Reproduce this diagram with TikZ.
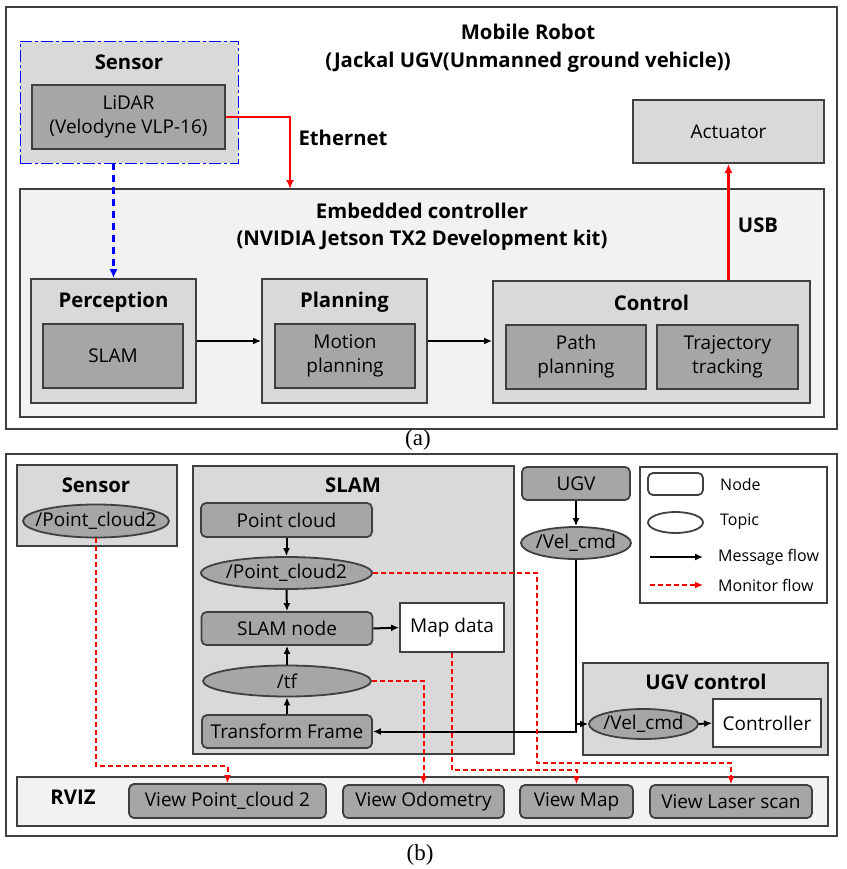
\documentclass[tikz,border=0pt]{standalone}
\usepackage{fontspec}
\setmainfont{Open Sans}
\newfontfamily\capfont{Liberation Serif}
\usetikzlibrary{arrows.meta,shapes.geometric,calc}
\definecolor{dk}{HTML}{A6A6A6}
\definecolor{lt}{HTML}{D9D9D9}
\definecolor{vlt}{HTML}{F2F2F2}
\definecolor{bd}{HTML}{404040}
\newcommand\bodyf{\fontsize{19}{24}\selectfont}
\newcommand\boldf{\fontsize{20.3}{24}\selectfont\bfseries}
\newcommand\legf{\fontsize{16}{20}\selectfont}
\begin{document}
\begin{tikzpicture}[x=1pt,y=-1pt,
  every node/.style={inner sep=0pt, font=\bodyf, text=black},
  sz/.style 2 args={minimum width=#1, minimum height=#2},
  frame/.style={draw=bd, line width=1.8pt},
  bx/.style={frame, rectangle, align=center},
  dkbox/.style={bx, fill=dk},
  ltbox/.style={bx, fill=lt},
  vltbox/.style={bx, fill=vlt},
  whbox/.style={bx, fill=white},
  rbox/.style={dkbox, rounded corners=5pt},
  topic/.style={frame, ellipse, fill=dk},
  ttl/.style={font=\boldf},
  capf/.style={font=\capfont\fontsize{23}{26}\selectfont},
  legtxt/.style={font=\legf, anchor=west},
  msg/.style={draw=black, line width=2pt, -{Latex[length=8pt,width=7pt]}},
  mon/.style={draw=red, line width=2pt, dash pattern=on 5pt off 3pt, -{Latex[length=8pt,width=7pt]}},
  redarr/.style={draw=red, line width=2.2pt, -{Latex[length=9pt,width=8pt]}},
  bluearr/.style={draw=blue, line width=2.2pt, dash pattern=on 7pt off 5pt, -{Latex[length=9pt,width=8pt]}}
]
\useasboundingbox (0,0) rectangle (846,869);
\fill[white] (0,0) rectangle (846,869);

% ---------------- (a) ----------------
\node[bx, fill=white, sz={831}{422}] (outA) at (421.5,218) {};
\node[ttl] (mr1) at (528,32) {Mobile Robot};
\node[ttl] (mr2) at (528,62) {(Jackal UGV(Unmanned ground vehicle))};
\node[rectangle, fill=lt, draw=blue, line width=0.9pt, dash pattern=on 12pt off 3pt on 3pt off 3pt, sz={218}{122}] (senA) at (129,102) {};
\node[ttl] (senAt) at (129,62) {Sensor};
\node[dkbox, sz={193}{64}] (lidar) at (128.5,117) {LiDAR\\(Velodyne VLP-16)};
\node[vltbox, sz={804}{228}] (emb) at (422,303) {};
\node[ttl] (emb1) at (422,211) {Embedded controller};
\node[ttl] (emb2) at (422,240) {(NVIDIA Jetson TX2 Development kit)};
\node[ltbox, sz={191}{63}] (act) at (728.5,131.5) {Actuator};
\node[ltbox, sz={165}{124}] (perc) at (113.5,341) {};
\node[ttl] (perct) at (113.5,302) {Perception};
\node[dkbox, sz={140}{64}] (slamA) at (113,356) {SLAM};
\node[ltbox, sz={165}{124}] (plan) at (344.5,341) {};
\node[ttl] (plant) at (344.5,302) {Planning};
\node[dkbox, sz={140}{64}] (motion) at (345,356) {Motion\\planning};
\node[ltbox, sz={317}{122}] (ctrl) at (651.5,342) {};
\node[ttl] (ctrlt) at (651.5,303) {Control};
\node[dkbox, sz={140}{64}] (pathp) at (576,357) {Path\\planning};
\node[dkbox, sz={141}{64}] (traj) at (727.5,357) {Trajectory\\tracking};
\coordinate (ethin) at (290,189);
\draw[redarr] (lidar.east) -| (ethin);
\node[ttl] (eth) at (343,138) {Ethernet};
\draw[redarr] (act.south |- ctrl.north) -- (act.south);
\node[ttl] (usb) at (758,225) {USB};
\draw[bluearr] (perc.north |- senA.south) -- (perc.north);
\draw[msg] (perc.east) -- (plan.west);
\draw[msg] (plan.east) -- (plan.east -| ctrl.west);
\node[capf] (capa) at (418,440) {(a)};

% ---------------- (b) ----------------
\node[bx, fill=white, sz={831}{382}] (outB) at (421.5,645) {};
\node[ltbox, sz={160}{81}] (senB) at (97,505.5) {};
\node[ttl] (senBt) at (96,485) {Sensor};
\node[topic, sz={146}{33}] (pcs) at (96,521) {\makebox[0pt]{/Point\_cloud2}};

\node[ltbox, sz={321}{288}] (slamB) at (353.5,610) {};
\node[ttl] (slamBt) at (353,485) {SLAM};
\node[rbox, sz={171}{34}] (pcloud) at (286.5,520) {Point cloud};
\node[topic, sz={171}{32}] (pc2) at (286.5,573) {\makebox[0pt]{/Point\_cloud2}};
\node[rbox, sz={171}{33}] (snode) at (287,628.5) {SLAM node};
\node[whbox, sz={104}{49}] (map) at (452,627.5) {Map data};
\node[topic, sz={168}{31}] (tf) at (287,681) {\makebox[0pt]{/tf}};
\node[rbox, sz={170}{33}] (tfr) at (287,731.5) {Transform Frame};

\node[rbox, sz={108}{33}] (ugv) at (576,483.5) {UGV};
\node[topic, sz={110}{32}] (vel1) at (576,543) {\makebox[0pt]{/Vel\_cmd}};

\node[whbox, sz={187}{136}] (leg) at (733.5,535) {};
\node[frame, fill=white, rounded corners=5pt, sz={55}{22}] (lnode) at (675.5,484) {};
\node[frame, ellipse, fill=white, sz={55}{21}] (ltopic) at (675.5,522.5) {};
\coordinate (lm1) at (650,557);
\coordinate (lm2) at (703,557);
\coordinate (lf1) at (650,585);
\coordinate (lf2) at (703,585);
\draw[msg] (lm1) -- (lm2);
\draw[mon] (lf1) -- (lf2);
\node[legtxt] (lt1) at (720,484) {Node};
\node[legtxt] (lt2) at (720,522) {Topic};
\node[legtxt] (lt3) at (718,557) {Message flow};
\node[legtxt] (lt4) at (718,585) {Monitor flow};

\node[ltbox, sz={245}{92}] (ugvc) at (705.5,709) {};
\node[ttl] (ugvct) at (706,682) {UGV control};
\node[topic, sz={109}{30}] (vel2) at (643.5,724) {\makebox[0pt]{/Vel\_cmd}};
\node[whbox, sz={108}{48}] (ctl) at (767,723) {Controller};

\node[vltbox, sz={811}{49}] (rviz) at (422.5,801.5) {};
\node[ttl] (rvizt) at (73,797) {RVIZ};
\node[rbox, sz={197}{34}] (vpc) at (227.5,801) {View Point\_cloud 2};
\node[rbox, sz={161}{33}] (vodo) at (423.5,801.5) {View Odometry};
\node[rbox, sz={113}{33}] (vmap) at (576.5,801.5) {View Map};
\node[rbox, sz={162}{33}] (vlas) at (731,801.5) {View Laser scan};

% message flows
\draw[msg] (pcloud.south) -- (pc2.north);
\draw[msg] (pc2.south) -- (snode.north);
\draw[msg] (tf.north) -- (snode.south);
\draw[msg] (tfr.north) -- (tf.south);
\draw[msg] (snode.east) -- (map.west);
\draw[msg] (ugv.south) -- (vel1.north);
\draw[msg] (vel1.south) |- (tfr.east);
\draw[msg] (vel1.south |- vel2.west) -- (vel2.west);
\draw[msg] (vel2.east) -- (ctl.west);

% monitor flows
\coordinate (r1) at (537,763);
\draw[mon] (pcs.south) |- ($(vpc.north)+(0,-17)$) -- (vpc.north);
\draw[mon] (pc2.east) -| (r1) -| (vlas.north);
\draw[mon] (map.south) |- ($(vmap.north)+(0,-14)$) -- (vmap.north);
\draw[mon] (tf.east) -| (vodo.north);

\node[capf] (capb) at (420,855) {(b)};
\end{tikzpicture}
\end{document}
